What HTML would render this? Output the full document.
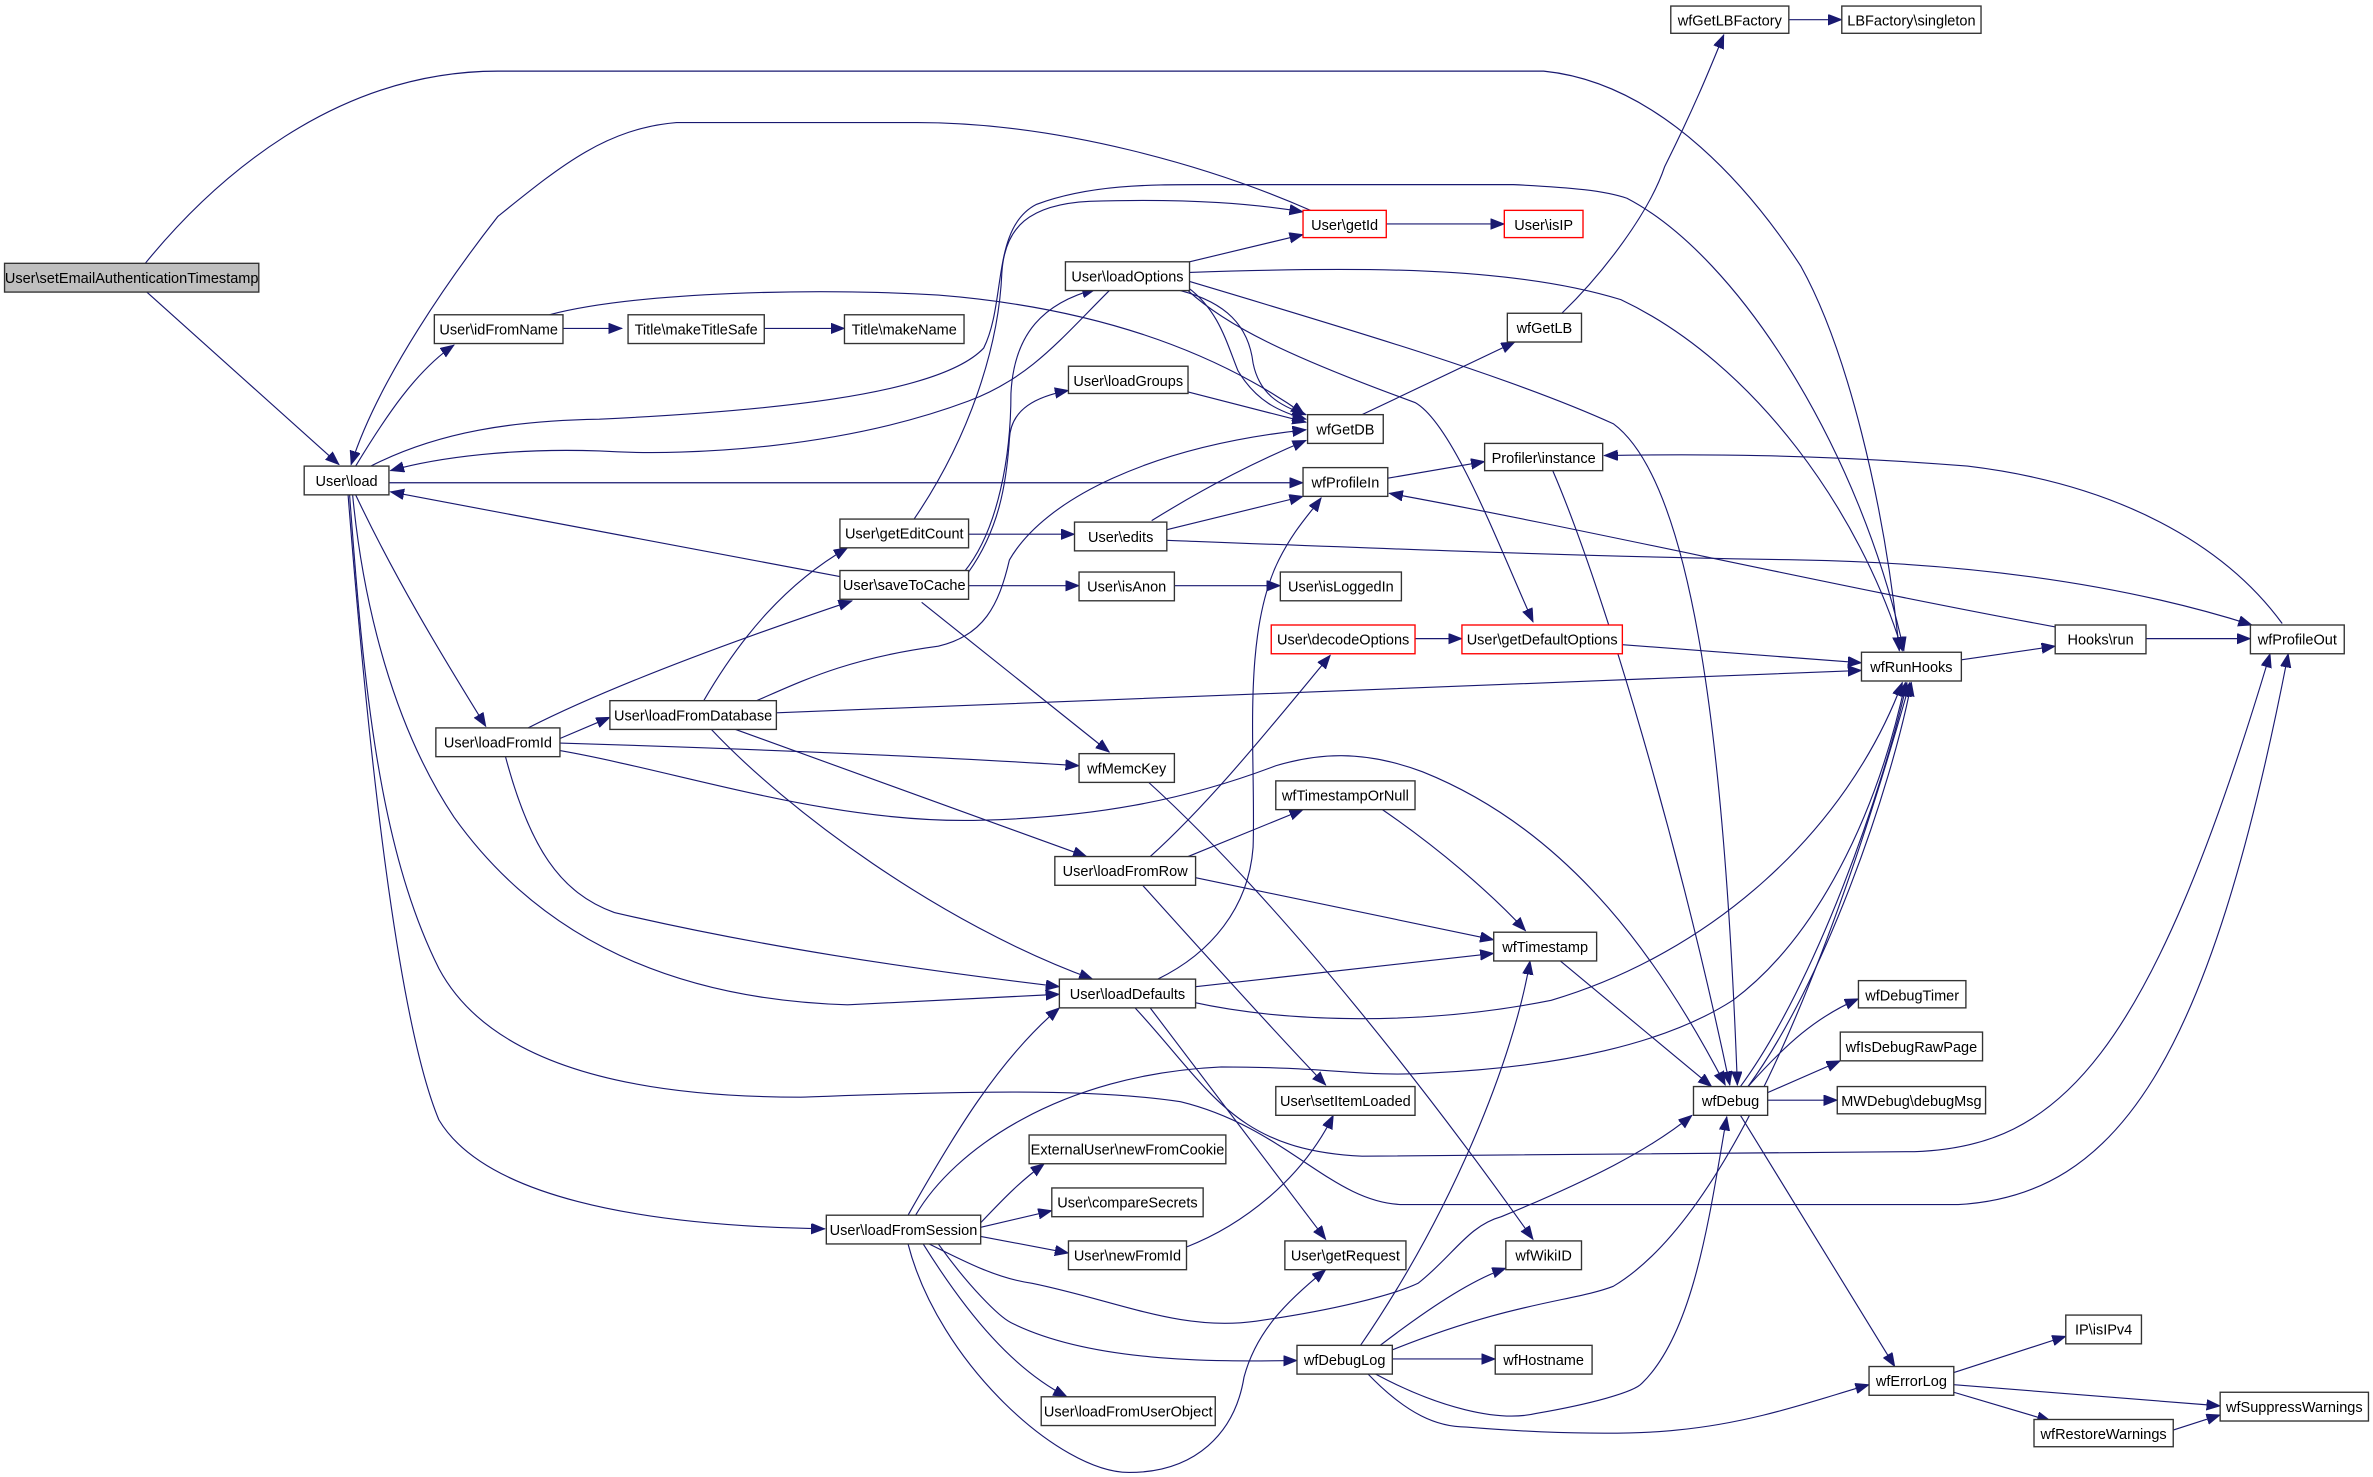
<!DOCTYPE html>
<html><head><meta charset="utf-8"><style>
html,body{margin:0;padding:0;background:#fff;}
svg{display:block;}
text{font-family:"Liberation Sans",sans-serif;font-size:9.6px;fill:#000;text-anchor:middle;}
.n{fill:#fff;stroke:#333;stroke-width:0.9;}
.r{fill:#fff;stroke:#ff0000;stroke-width:0.9;}
.g{fill:#bfbfbf;stroke:#333;stroke-width:0.9;}
path.e{fill:none;stroke:#191970;stroke-width:0.75;marker-end:url(#a);}
</style></head><body>
<svg width="2373" height="1477" viewBox="0 0 1568 976" preserveAspectRatio="none" xmlns="http://www.w3.org/2000/svg">
<defs><marker id="a" markerUnits="userSpaceOnUse" markerWidth="12" markerHeight="10" refX="9" refY="3.5" orient="auto"><path d="M0,0 L9,3.5 L0,7 Z" fill="#191970" stroke="#191970" stroke-width="0.5"/></marker></defs>
<g>
<path class="e" d="M96,174 C140,120 220,47 329,47 L1020,47 C1100,55 1160,130 1190,176 C1220,230 1245,330 1255,430"/>
<path class="e" d="M97,193 L224,307"/>
<path class="e" d="M235,308 C255,275 275,245 300,228"/>
<path class="e" d="M372,217 L411,217"/>
<path class="e" d="M505,217 L558,217"/>
<path class="e" d="M363,208 C420,193 540,190 620,195 C720,203 800,230 862,274"/>
<path class="e" d="M866,139 C800,110 700,81 606,81 L447,81 C400,85 370,110 329,143 C300,180 250,250 232,307"/>
<path class="e" d="M245,308 C290,285 340,278 396,277 C500,272 620,262 650,230 C665,200 655,150 685,135 C720,122 760,122 793,122 L1000,122 C1040,124 1060,126 1075,131 C1150,170 1230,300 1258,430"/>
<path class="e" d="M604,343 C640,290 660,230 662,180 C664,150 680,135 720,133 C790,131 830,135 861,140"/>
<path class="e" d="M733,192 C700,225 680,250 640,265 C560,295 460,302 396,298 C340,296 290,302 258,311"/>
<path class="e" d="M257,319 L861,319"/>
<path class="e" d="M555,381 L258,325"/>
<path class="e" d="M235,327 C260,380 290,430 321,480"/>
<path class="e" d="M233,327 C240,400 260,480 300,540 C350,610 430,660 560,664 L700,657"/>
<path class="e" d="M231,327 C240,450 250,560 290,640 C330,715 450,725 529,725 C620,722 714,718 780,728 C850,745 880,795 927,796 L1294,796 C1400,790 1460,700 1512,432"/>
<path class="e" d="M230,327 C245,520 265,680 290,740 C320,790 420,810 545,812"/>
<path class="e" d="M349,481 C400,455 480,425 563,397"/>
<path class="e" d="M370,488 L403,474"/>
<path class="e" d="M370,491 C500,495 620,500 713,506"/>
<path class="e" d="M370,496 C450,510 550,545 649,542 C720,540 780,530 843,506 C870,498 900,495 940,510 C1040,550 1100,640 1140,717"/>
<path class="e" d="M334,500 C350,560 370,590 406,603 C500,625 600,640 700,652"/>
<path class="e" d="M465,463 C490,420 520,385 560,362"/>
<path class="e" d="M500,463 C530,450 560,435 620,427 C650,420 660,400 667,370 C690,330 760,295 863,284"/>
<path class="e" d="M637,378 C660,350 668,300 668,260 C670,220 690,200 724,191"/>
<path class="e" d="M640,378 C660,350 665,320 667,290 C668,270 685,262 706,258"/>
<path class="e" d="M513,471 C800,460 1000,452 1230,443"/>
<path class="e" d="M486,482 L718,566"/>
<path class="e" d="M470,482 C520,535 620,610 722,647"/>
<path class="e" d="M640,353 L710,353"/>
<path class="e" d="M640,387 L713,387"/>
<path class="e" d="M609,398 L733,497"/>
<path class="e" d="M776,387 L846,387"/>
<path class="e" d="M761,344 C800,320 830,305 863,291"/>
<path class="e" d="M771,350 L861,328"/>
<path class="e" d="M771,357 C900,362 1050,368 1189,370 C1300,372 1400,385 1488,413"/>
<path class="e" d="M786,173 L861,155"/>
<path class="e" d="M786,180 C900,176 1000,176 1071,198 C1160,240 1230,340 1257,430"/>
<path class="e" d="M780,192 C810,200 825,215 828,240 C832,260 845,268 863,274"/>
<path class="e" d="M785,190 C805,205 810,225 818,245 C830,265 845,272 863,277"/>
<path class="e" d="M785,192 C810,215 850,235 935,266 C960,280 990,360 1013,411"/>
<path class="e" d="M786,186 C900,220 1000,250 1066,280 C1120,320 1140,500 1148,717"/>
<path class="e" d="M900,274 L1001,226"/>
<path class="e" d="M1032,207 C1060,180 1090,140 1100,110 C1120,70 1130,45 1139,23"/>
<path class="e" d="M1182,13 L1217,13"/>
<path class="e" d="M916,148 L994,148"/>
<path class="e" d="M785,259 L863,279"/>
<path class="e" d="M917,316 L981,305"/>
<path class="e" d="M1026,311 C1060,390 1110,560 1143,717"/>
<path class="e" d="M1508,412 C1470,360 1400,320 1300,308 C1200,300 1120,300 1060,301"/>
<path class="e" d="M1362,415 C1200,385 1050,350 918,326"/>
<path class="e" d="M1296,436 L1358,427"/>
<path class="e" d="M1418,422 L1487,422"/>
<path class="e" d="M1072,426 C1130,430 1180,434 1230,438"/>
<path class="e" d="M935,422 L966,422"/>
<path class="e" d="M760,566 C800,530 840,480 879,433"/>
<path class="e" d="M785,566 L861,535"/>
<path class="e" d="M790,580 L987,621"/>
<path class="e" d="M755,585 C800,635 850,690 876,717"/>
<path class="e" d="M912,534 C950,560 985,590 1008,615"/>
<path class="e" d="M790,652 L987,630"/>
<path class="e" d="M765,647 C800,630 825,600 828,560 C830,500 820,420 845,370 C855,350 865,340 873,329"/>
<path class="e" d="M787,662 C850,676 940,678 1025,661 C1130,630 1220,550 1257,451"/>
<path class="e" d="M760,666 L876,819"/>
<path class="e" d="M750,666 C800,720 815,760 900,764 L1265,761 C1360,758 1420,700 1500,432"/>
<path class="e" d="M759,517 C850,600 950,730 1013,819"/>
<path class="e" d="M1031,635 L1131,718"/>
<path class="e" d="M1155,718 C1180,690 1200,672 1228,660"/>
<path class="e" d="M1168,722 L1216,701"/>
<path class="e" d="M1168,727 L1214,727"/>
<path class="e" d="M1150,718 C1200,650 1245,520 1260,451"/>
<path class="e" d="M1155,718 C1205,650 1250,520 1263,451"/>
<path class="e" d="M1150,737 L1252,903"/>
<path class="e" d="M600,803 C630,750 660,700 700,666"/>
<path class="e" d="M648,808 C665,790 675,780 690,769"/>
<path class="e" d="M648,811 L695,800"/>
<path class="e" d="M648,817 L706,828"/>
<path class="e" d="M605,803 C630,760 700,710 807,705 C880,705 900,712 946,709 C1030,705 1100,690 1145,661 C1200,620 1240,540 1259,451"/>
<path class="e" d="M614,822 C640,835 660,845 682,848 C740,860 780,880 830,873 C880,866 920,856 937,848 C960,830 970,810 992,804 C1050,780 1090,760 1118,737"/>
<path class="e" d="M620,822 C640,850 660,870 668,874 C720,900 800,900 857,899"/>
<path class="e" d="M610,822 C640,870 670,905 705,923"/>
<path class="e" d="M600,822 C620,900 700,973 746,973 C790,973 816,947 822,910 C830,880 850,860 876,839"/>
<path class="e" d="M784,824 C820,810 860,780 881,737"/>
<path class="e" d="M899,889 C960,800 1000,700 1011,635"/>
<path class="e" d="M912,889 C950,860 975,845 995,838"/>
<path class="e" d="M920,898 L988,898"/>
<path class="e" d="M920,892 C1000,860 1040,860 1066,850 C1150,800 1220,600 1262,451"/>
<path class="e" d="M909,908 C950,930 990,940 1015,934 C1050,928 1080,920 1085,914 C1120,880 1130,800 1141,738"/>
<path class="e" d="M904,908 C930,935 950,943 969,943 C1030,948 1080,948 1108,945 C1160,940 1200,925 1235,915"/>
<path class="e" d="M1291,907 L1365,883"/>
<path class="e" d="M1291,915 L1467,929"/>
<path class="e" d="M1291,920 L1355,939"/>
<path class="e" d="M1436,945 L1467,935"/>
</g>
<g>
<rect class="g" x="3" y="174" width="168" height="19"/><text x="87" y="187">User\setEmailAuthenticationTimestamp</text>
<rect class="n" x="201" y="308" width="56" height="19"/><text x="229" y="321">User\load</text>
<rect class="n" x="287" y="208" width="85" height="19"/><text x="329.5" y="221">User\idFromName</text>
<rect class="n" x="415" y="208" width="90" height="19"/><text x="460" y="221">Title\makeTitleSafe</text>
<rect class="n" x="558" y="208" width="79" height="19"/><text x="597.5" y="221">Title\makeName</text>
<rect class="n" x="704" y="173" width="82" height="19"/><text x="745" y="186">User\loadOptions</text>
<rect class="n" x="706" y="242" width="79" height="18"/><text x="745.5" y="255">User\loadGroups</text>
<rect class="r" x="861" y="139" width="55" height="18"/><text x="888.5" y="152">User\getId</text>
<rect class="r" x="994" y="139" width="52" height="18"/><text x="1020" y="152">User\isIP</text>
<rect class="n" x="1104" y="4" width="78" height="18"/><text x="1143" y="17">wfGetLBFactory</text>
<rect class="n" x="1217" y="4" width="92" height="18"/><text x="1263" y="17">LBFactory\singleton</text>
<rect class="n" x="996" y="207" width="49" height="19"/><text x="1020.5" y="220">wfGetLB</text>
<rect class="n" x="864" y="274" width="50" height="19"/><text x="889" y="287">wfGetDB</text>
<rect class="n" x="981" y="293" width="78" height="18"/><text x="1020" y="306">Profiler\instance</text>
<rect class="n" x="861" y="309" width="56" height="19"/><text x="889" y="322">wfProfileIn</text>
<rect class="n" x="555" y="343" width="85" height="19"/><text x="597.5" y="356">User\getEditCount</text>
<rect class="n" x="710" y="345" width="61" height="19"/><text x="740.5" y="358">User\edits</text>
<rect class="n" x="555" y="377" width="85" height="19"/><text x="597.5" y="390">User\saveToCache</text>
<rect class="n" x="713" y="378" width="63" height="19"/><text x="744.5" y="391">User\isAnon</text>
<rect class="n" x="846" y="378" width="80" height="19"/><text x="886" y="391">User\isLoggedIn</text>
<rect class="r" x="840" y="413" width="95" height="19"/><text x="887.5" y="426">User\decodeOptions</text>
<rect class="r" x="966" y="413" width="106" height="19"/><text x="1019" y="426">User\getDefaultOptions</text>
<rect class="n" x="1230" y="431" width="66" height="19"/><text x="1263" y="444">wfRunHooks</text>
<rect class="n" x="1358" y="413" width="60" height="19"/><text x="1388" y="426">Hooks\run</text>
<rect class="n" x="1487" y="413" width="62" height="19"/><text x="1518" y="426">wfProfileOut</text>
<rect class="n" x="288" y="481" width="82" height="19"/><text x="329" y="494">User\loadFromId</text>
<rect class="n" x="403" y="463" width="110" height="19"/><text x="458" y="476">User\loadFromDatabase</text>
<rect class="n" x="713" y="498" width="63" height="19"/><text x="744.5" y="511">wfMemcKey</text>
<rect class="n" x="843" y="516" width="92" height="19"/><text x="889" y="529">wfTimestampOrNull</text>
<rect class="n" x="697" y="566" width="93" height="19"/><text x="743.5" y="579">User\loadFromRow</text>
<rect class="n" x="987" y="616" width="68" height="19"/><text x="1021" y="629">wfTimestamp</text>
<rect class="n" x="700" y="647" width="90" height="19"/><text x="745" y="660">User\loadDefaults</text>
<rect class="n" x="1228" y="648" width="71" height="18"/><text x="1263.5" y="661">wfDebugTimer</text>
<rect class="n" x="1216" y="682" width="94" height="19"/><text x="1263" y="695">wfIsDebugRawPage</text>
<rect class="n" x="1119" y="718" width="49" height="19"/><text x="1143.5" y="731">wfDebug</text>
<rect class="n" x="1214" y="718" width="98" height="18"/><text x="1263" y="731">MWDebug\debugMsg</text>
<rect class="n" x="843" y="718" width="92" height="19"/><text x="889" y="731">User\setItemLoaded</text>
<rect class="n" x="680" y="750" width="130" height="19"/><text x="745" y="763">ExternalUser\newFromCookie</text>
<rect class="n" x="695" y="785" width="100" height="19"/><text x="745" y="798">User\compareSecrets</text>
<rect class="n" x="546" y="803" width="102" height="19"/><text x="597" y="816">User\loadFromSession</text>
<rect class="n" x="706" y="820" width="78" height="19"/><text x="745" y="833">User\newFromId</text>
<rect class="n" x="849" y="820" width="80" height="19"/><text x="889" y="833">User\getRequest</text>
<rect class="n" x="995" y="820" width="50" height="19"/><text x="1020" y="833">wfWikiID</text>
<rect class="n" x="857" y="889" width="63" height="19"/><text x="888.5" y="902">wfDebugLog</text>
<rect class="n" x="988" y="889" width="64" height="19"/><text x="1020" y="902">wfHostname</text>
<rect class="n" x="1365" y="869" width="50" height="19"/><text x="1390" y="882">IP\isIPv4</text>
<rect class="n" x="1235" y="903" width="56" height="19"/><text x="1263" y="916">wfErrorLog</text>
<rect class="n" x="1344" y="938" width="92" height="18"/><text x="1390" y="951">wfRestoreWarnings</text>
<rect class="n" x="1467" y="920" width="98" height="19"/><text x="1516" y="933">wfSuppressWarnings</text>
<rect class="n" x="688" y="923" width="115" height="19"/><text x="745.5" y="936">User\loadFromUserObject</text>
</g>
</svg>
</body></html>
